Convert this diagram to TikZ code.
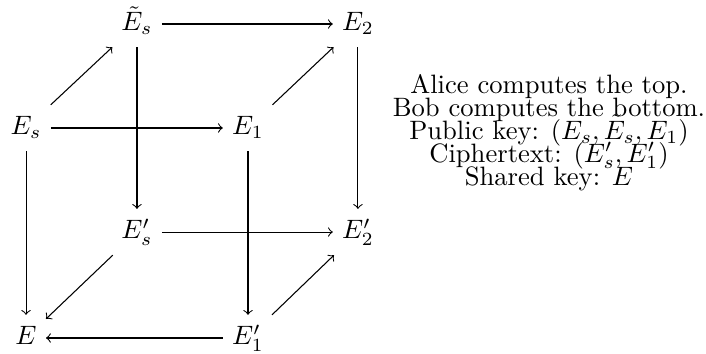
\documentclass[tikz,border=0pt]{standalone}
\usepackage{amsmath}

\begin{document}
\begin{tikzpicture}[
    directed/.style={->},
    cell/.style={text height=1.8ex, text depth=0.6ex},
    info_node/.style={anchor=base}
]
    \useasboundingbox (0,0) rectangle (9.329,4.677);
    \node[cell] (Et) at (1.810,4.360) {$\tilde{E}_s$};
    \node[cell] (E2) at (4.730,4.360) {$E_2$};
    \node[cell] (Es) at (0.344,2.986) {$E_s$};
    \node[cell] (E1) at (3.277,2.986) {$E_1$};
    \node[cell] (Esp) at (1.810,1.611) {$E_s'$};
    \node[cell] (E2p) at (4.730,1.611) {$E_2'$};
    \node[cell] (E) at (0.344,0.211) {$E$};
    \node[cell] (E1p) at (3.277,0.211) {$E_1'$};
    % text on the right
    \node[info_node] (alice) at (7.254,3.448) {Alice computes the top.};
    \node[info_node] (bob) at (7.254,3.144) {Bob computes the bottom.};
    \node[info_node] (pk) at (7.254,2.840) {Public key: $(E_s, \tilde{E}_s, E_1)$};
    \node[info_node] (ct) at (7.254,2.536) {Ciphertext: $(E_s', E_1')$};
    \node[info_node] (sk) at (7.254,2.232) {Shared key: $E$};
    \draw [directed] (Es) -- (Et);
    \draw [directed] (Et) -- (E2);
    \draw [directed] (Es) -- (E1);
    \draw [directed] (E1) -- (E2);
    \draw [directed] (Et) -- (Esp);
    \draw [directed] (E2) -- (E2p);
    \draw [directed] (Es) -- (E);
    \draw [directed] (E1) -- (E1p);
    \draw [directed] (Esp) -- (E2p);
    \draw [directed] (Esp) -- (E);
    \draw [directed] (E1p) -- (E);
    \draw [directed] (E1p) -- (E2p);
\end{tikzpicture}
\end{document}
